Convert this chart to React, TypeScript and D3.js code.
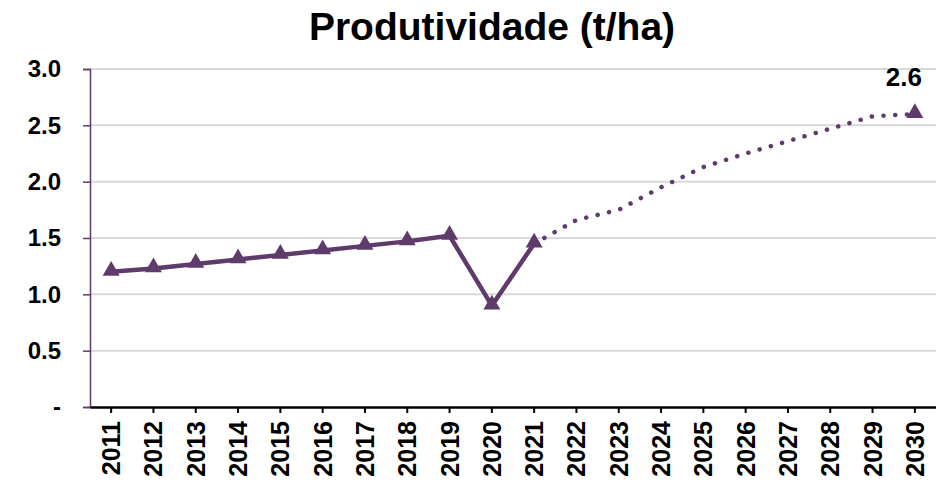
import { useRef, useEffect, FC } from 'react';
import * as d3 from 'd3';

const years = [
  '2011', '2012', '2013', '2014', '2015', '2016', '2017', '2018', '2019', '2020',
  '2021', '2022', '2023', '2024', '2025', '2026', '2027', '2028', '2029', '2030',
];
// historic values 2011-2021
const actual = [1.2, 1.23, 1.27, 1.31, 1.35, 1.39, 1.43, 1.47, 1.52, 0.9, 1.45];
// projection 2021-2030
const projYears = ['2021', '2022', '2023', '2024', '2025', '2026', '2027', '2028', '2029', '2030'];
const projection = [1.45, 1.66, 1.75, 1.95, 2.13, 2.25, 2.36, 2.47, 2.58, 2.6];
const yTicks = [0, 0.5, 1, 1.5, 2, 2.5, 3];

const color = '#5f3b6c';
const font = '"Liberation Sans", Arial, Helvetica, sans-serif';

const Chart: FC = () => {
  const svgRef = useRef<SVGSVGElement | null>(null);

  useEffect(() => {
    const width = 936;
    const height = 485;
    const margin = { top: 69, right: 0, bottom: 78, left: 90 };

    const svg = d3.select(svgRef.current).attr('width', width).attr('height', height);
    svg.selectAll('*').remove();

    const x = d3
      .scaleBand()
      .domain(years)
      .range([margin.left, width - margin.right]);
    const y = d3
      .scaleLinear()
      .domain([0, 3])
      .range([height - margin.bottom, margin.top]);
    const cx = (d: string) => (x(d) as number) + x.bandwidth() / 2;

    svg
      .append('text')
      .attr('x', 492)
      .attr('y', 40)
      .attr('text-anchor', 'middle')
      .style('font-family', font)
      .style('font-weight', 'bold')
      .style('font-size', '39px')
      .text('Produtividade (t/ha)');

    // grid
    svg
      .append('g')
      .selectAll('line')
      .data(yTicks.slice(1))
      .join('line')
      .attr('x1', margin.left)
      .attr('x2', width)
      .attr('y1', d => y(d))
      .attr('y2', d => y(d))
      .attr('stroke', '#d9d9d9')
      .attr('stroke-width', 2);

    // y axis
    const yAxis = d3
      .axisLeft(y)
      .tickValues(yTicks)
      .tickSize(7)
      .tickPadding(22)
      .tickFormat(d => ((d as number) === 0 ? '-' : d3.format('.1f')(d as number)));
    const gy = svg.append('g').attr('transform', `translate(${margin.left},0)`).call(yAxis);
    gy.attr('font-size', null).attr('font-family', null);
    gy.select('.domain').attr('stroke', color).attr('stroke-width', 1.5);
    gy.selectAll('.tick line').attr('stroke', color).attr('stroke-width', 1.5);
    gy.selectAll('.tick text')
      .attr('fill', '#000')
      .style('font-family', font)
      .style('font-weight', 'bold')
      .style('font-size', '24px');

    // x axis
    const xAxis = d3.axisBottom(x).tickSize(6).tickSizeOuter(0);
    const gx = svg
      .append('g')
      .attr('transform', `translate(0,${height - margin.bottom})`)
      .call(xAxis);
    gx.attr('font-size', null).attr('font-family', null);
    gx.select('.domain').attr('stroke', '#000').attr('stroke-width', 2.5);
    gx.selectAll('.tick line').attr('stroke', '#000').attr('stroke-width', 2);
    gx.selectAll('.tick text')
      .attr('fill', '#000')
      .attr('transform', 'rotate(-90)')
      .attr('text-anchor', 'end')
      .attr('x', -14)
      .attr('y', 0)
      .attr('dy', '0.36em')
      .style('font-family', font)
      .style('font-weight', 'bold')
      .style('font-size', '25px');

    // projection (dotted)
    svg
      .append('path')
      .datum(projection)
      .attr(
        'd',
        d3
          .line<number>()
          .x((_d, i) => cx(projYears[i]))
          .y(d => y(d)),
      )
      .attr('fill', 'none')
      .attr('stroke', color)
      .attr('stroke-width', 4.5)
      .attr('stroke-linecap', 'round')
      .attr('stroke-dasharray', '0.1 11.6');

    // historic (solid)
    svg
      .append('path')
      .datum(actual)
      .attr(
        'd',
        d3
          .line<number>()
          .x((_d, i) => cx(years[i]))
          .y(d => y(d)),
      )
      .attr('fill', 'none')
      .attr('stroke', color)
      .attr('stroke-width', 4.5)
      .attr('stroke-linejoin', 'miter');

    const tri = d3.symbol().type(d3.symbolTriangle).size(125);
    const markers: [string, number][] = [
      ...actual.map((v, i) => [years[i], v] as [string, number]),
      [projYears[projYears.length - 1], projection[projection.length - 1]],
    ];
    svg
      .append('g')
      .selectAll('path')
      .data(markers)
      .join('path')
      .attr('d', tri)
      .attr('transform', d => `translate(${cx(d[0])},${y(d[1]) - 1})`)
      .attr('fill', color);

    // end label
    const last = projection[projection.length - 1];
    svg
      .append('text')
      .attr('x', cx('2030') - 11)
      .attr('y', y(last) - 28)
      .attr('text-anchor', 'middle')
      .style('font-family', font)
      .style('font-weight', 'bold')
      .style('font-size', '26px')
      .text(d3.format('.1f')(last));
  }, []);

  return <svg ref={svgRef} style={{ position: 'absolute', left: 0, top: 0 }}></svg>;
};

export default function App() {
  return <Chart />;
}
